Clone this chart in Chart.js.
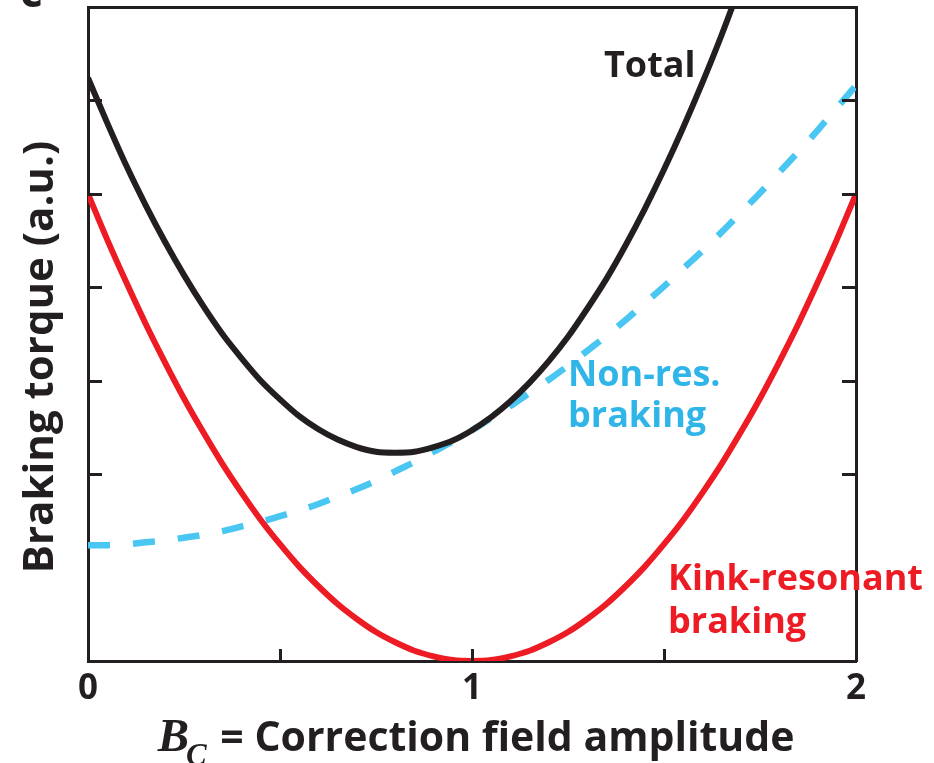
<!DOCTYPE html>
<html>
<head>
<meta charset="utf-8">
<script src="https://cdn.jsdelivr.net/npm/chart.js@4/dist/chart.umd.min.js"></script>
<style>
  html, body { margin: 0; padding: 0; background: #ffffff; }
  #wrap { width: 934px; height: 763px; }
</style>
</head>
<body>
<div id="wrap"><canvas id="torque" width="934" height="763"></canvas></div>
<script>
// Correction field amplitude B_C (a.u.)
const fieldAmplitude = [
  0.00, 0.05, 0.10, 0.15, 0.20, 0.25, 0.30, 0.35, 0.40, 0.45,
  0.50, 0.55, 0.60, 0.65, 0.70, 0.75, 0.80, 0.85, 0.90, 0.95,
  1.00, 1.05, 1.10, 1.15, 1.20, 1.25, 1.30, 1.35, 1.40, 1.45,
  1.50, 1.55, 1.60, 1.65, 1.70, 1.75, 1.80, 1.85, 1.90, 1.95, 2.00
];

// Kink-resonant braking torque
const kinkResonant = [
  5.00, 4.51, 4.05, 3.61, 3.20, 2.81, 2.45, 2.11, 1.80, 1.51,
  1.25, 1.01, 0.80, 0.61, 0.45, 0.31, 0.20, 0.11, 0.05, 0.01,
  0.00, 0.01, 0.05, 0.11, 0.20, 0.31, 0.45, 0.61, 0.80, 1.01,
  1.25, 1.51, 1.80, 2.11, 2.45, 2.81, 3.20, 3.61, 4.05, 4.51, 5.00
];

// Non-resonant braking torque
const nonResonant = [
  1.24, 1.24, 1.25, 1.27, 1.29, 1.32, 1.35, 1.39, 1.44, 1.49,
  1.55, 1.61, 1.68, 1.76, 1.84, 1.93, 2.03, 2.13, 2.24, 2.35,
  2.47, 2.60, 2.73, 2.87, 3.01, 3.16, 3.32, 3.48, 3.65, 3.83,
  4.01, 4.20, 4.39, 4.59, 4.80, 5.01, 5.23, 5.45, 5.68, 5.92, 6.16
];

// Total braking torque (leaves the frame above x = 1.7)
const totalTorque = [
  6.24, 5.76, 5.30, 4.88, 4.49, 4.13, 3.80, 3.50, 3.24, 3.00,
  2.80, 2.62, 2.48, 2.37, 2.29, 2.24, 2.23, 2.24, 2.29, 2.36,
  2.47, 2.61, 2.78, 2.98, 3.21, 3.47, 3.77, 4.09, 4.45, 4.84,
  5.26, 5.71, 6.19, 6.70, 7.25, 7.82
];

// Axis ticks
const xTickValues = [0, 0.5, 1, 1.5, 2];
const xTickLabels = ['0', '', '1', '', '2'];
const yTickValues = [2, 3, 4, 5, 6];

const INK = '#231f20';
const RED = '#ed1c24';
const CYAN = '#4ac6f2';
const CYAN_TEXT = '#2fb5e8';
const SANS = "'Open Sans', 'DejaVu Sans', sans-serif";
const SERIF = "'Liberation Serif', 'DejaVu Serif', serif";

function pairs(values) {
  return values.map((v, i) => ({ x: fieldAmplitude[i], y: v }));
}

// Inward tick marks on the frame
const frameTicks = {
  id: 'frameTicks',
  afterDraw(chart) {
    const { ctx, chartArea: a, scales } = chart;
    ctx.save();
    ctx.strokeStyle = INK;
    ctx.lineWidth = 3;
    ctx.lineCap = 'butt';
    ctx.beginPath();
    yTickValues.forEach(v => {
      const py = Math.round(scales.y.getPixelForValue(v)) + 0.5;
      ctx.moveTo(a.left, py); ctx.lineTo(a.left + 14, py);
      ctx.moveTo(a.right, py); ctx.lineTo(a.right - 14, py);
    });
    xTickValues.slice(1, -1).forEach(v => {
      const px = Math.round(scales.x.getPixelForValue(v)) + 0.5;
      ctx.moveTo(px, a.bottom); ctx.lineTo(px, a.bottom - 12);
    });
    ctx.stroke();
    ctx.restore();
  }
};

// Curve labels and axis titles
const chartText = {
  id: 'chartText',
  afterDraw(chart) {
    const ctx = chart.ctx;
    ctx.save();
    ctx.textAlign = 'left';
    ctx.textBaseline = 'alphabetic';

    ctx.font = `700 36px ${SANS}`;
    ctx.fillStyle = INK;
    ctx.fillText('Total', 604, 77);

    ctx.fillStyle = CYAN_TEXT;
    ctx.fillText('Non-res.', 568, 386);
    ctx.fillText('braking', 568, 427);

    ctx.fillStyle = RED;
    ctx.fillText('Kink-resonant', 668, 590);
    ctx.fillText('braking', 668, 633);

    // panel letter at the top-left corner
    ctx.fillStyle = INK;
    ctx.font = `700 44px ${SANS}`;
    ctx.fillText('c', 20, 7);

    // y-axis title
    ctx.save();
    ctx.translate(53, 357);
    ctx.rotate(-Math.PI / 2);
    ctx.textAlign = 'center';
    ctx.font = `700 42px ${SANS}`;
    ctx.fillStyle = INK;
    ctx.fillText('Braking torque (a.u.)', 0, 0);
    ctx.restore();

    // x-axis title: italic B with subscript C, then the description
    const fB = `italic 700 47px ${SERIF}`;
    const fSub = `italic 700 31px ${SERIF}`;
    const fRest = `700 41px ${SANS}`;
    const rest = ' = Correction field amplitude';
    ctx.font = fB; const wB = ctx.measureText('B').width;
    ctx.font = fSub; const wSub = ctx.measureText('C').width;
    ctx.font = fRest; const wRest = ctx.measureText(rest).width;
    let x0 = 476 - (wB + wSub + wRest) / 2;
    ctx.fillStyle = INK;
    ctx.font = fB; ctx.fillText('B', x0, 751); x0 += wB;
    ctx.font = fSub; ctx.fillText('C', x0 - 3, 765); x0 += wSub;
    ctx.font = fRest; ctx.fillText(rest, x0, 751);
    ctx.restore();
  }
};

const frameAxis = (position, size) => ({
  type: 'linear',
  position,
  display: true,
  ticks: { display: false },
  grid: { display: false, drawTicks: false },
  border: { display: true, color: INK, width: 3 },
  afterFit(scale) {
    if (position === 'left' || position === 'right') scale.width = size;
    else scale.height = size;
  }
});

new Chart(document.getElementById('torque'), {
  type: 'line',
  data: {
    datasets: [
      {
        label: 'Kink-resonant braking',
        data: pairs(kinkResonant),
        borderColor: RED,
        borderWidth: 6,
        cubicInterpolationMode: 'monotone',
        pointRadius: 0,
        order: 1
      },
      {
        label: 'Total',
        data: pairs(totalTorque),
        borderColor: INK,
        borderWidth: 6,
        cubicInterpolationMode: 'monotone',
        pointRadius: 0,
        order: 2
      },
      {
        label: 'Non-res. braking',
        data: pairs(nonResonant),
        borderColor: CYAN,
        borderWidth: 6.5,
        borderDash: [22, 23],
        borderCapStyle: 'butt',
        cubicInterpolationMode: 'monotone',
        pointRadius: 0,
        order: 3
      }
    ]
  },
  options: {
    responsive: false,
    animation: false,
    events: [],
    layout: { padding: 0 },
    plugins: { legend: { display: false }, tooltip: { enabled: false } },
    scales: {
      x: {
        type: 'linear',
        position: 'bottom',
        min: 0,
        max: 2,
        afterBuildTicks(scale) { scale.ticks = xTickValues.map(v => ({ value: v })); },
        ticks: {
          autoSkip: false,
          maxRotation: 0,
          padding: 7,
          color: INK,
          font: { family: SANS, size: 35, weight: '700' },
          callback: (v) => xTickLabels[xTickValues.indexOf(v)]
        },
        grid: { display: false, drawTicks: false },
        border: { display: true, color: INK, width: 3 },
        afterFit(scale) { scale.height = 102; }
      },
      y: {
        type: 'linear',
        position: 'left',
        min: 0,
        max: 7,
        ticks: { display: false },
        grid: { display: false, drawTicks: false },
        border: { display: true, color: INK, width: 3 },
        afterFit(scale) { scale.width = 88; }
      },
      xTop: frameAxis('top', 7),
      yRight: frameAxis('right', 78)
    }
  },
  plugins: [frameTicks, chartText]
});
</script>
</body>
</html>
